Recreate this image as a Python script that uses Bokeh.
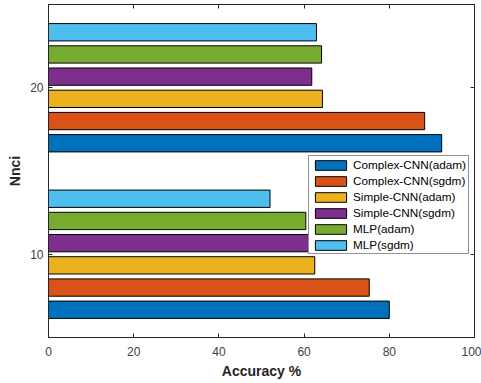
from bokeh.plotting import figure
from bokeh.models import FixedTicker, LinearAxis, Legend, LegendItem, ColumnDataSource
from bokeh.embed import file_html
from bokeh.resources import INLINE

# Number of nnci (group positions on the y axis)
nnci = [10, 20]

# Accuracy (%) per model/optimizer
series_names = [
    "Complex-CNN(adam)",
    "Complex-CNN(sgdm)",
    "Simple-CNN(adam)",
    "Simple-CNN(sgdm)",
    "MLP(adam)",
    "MLP(sgdm)",
]
complex_cnn_adam = [80.0, 92.3]
complex_cnn_sgdm = [75.3, 88.3]
simple_cnn_adam = [62.5, 64.3]
simple_cnn_sgdm = [61.1, 61.8]
mlp_adam = [60.4, 64.1]
mlp_sgdm = [52.0, 62.9]
series_values = [complex_cnn_adam, complex_cnn_sgdm, simple_cnn_adam,
                 simple_cnn_sgdm, mlp_adam, mlp_sgdm]

colors = ["#0072BD", "#D95319", "#EDB120", "#7E2F8E", "#77AC30", "#4DBEEE"]

FONT = "Liberation Sans"
TEXT = "#262626"

p = figure(width=481, height=383, output_backend="svg", toolbar_location=None,
           x_range=(0, 100), y_range=(5, 25),
           min_border_left=48, min_border_right=7, min_border_top=4, min_border_bottom=46)

p.xgrid.visible = False
p.ygrid.visible = False
p.outline_line_color = TEXT
p.outline_line_width = 1
p.background_fill_color = "white"
p.border_fill_color = "white"

# grouped horizontal bars: each group spans 0.8 of the category spacing
spacing = nnci[1] - nnci[0]
n = len(series_names)
group_w = 0.8 * spacing
step = group_w / n
bar_h = step * 0.78

renderers = []
for i, (name, vals, col) in enumerate(zip(series_names, series_values, colors)):
    off = -group_w / 2 + step * (i + 0.5)
    src = ColumnDataSource(dict(y=[c + off for c in nnci], right=vals))
    r = p.hbar(y="y", right="right", left=0, height=bar_h, source=src,
               fill_color=col, line_color="black", line_width=1)
    renderers.append((name, r))

# axes styling
for ax in (p.xaxis[0], p.yaxis[0]):
    ax.axis_line_color = TEXT
    ax.major_tick_line_color = TEXT
    ax.major_tick_in = 4
    ax.major_tick_out = 0
    ax.minor_tick_line_color = None
    ax.major_label_text_font = FONT
    ax.major_label_text_font_size = "12px"
    ax.major_label_text_color = "#404040"
    ax.axis_label_text_font = FONT
    ax.axis_label_text_font_size = "14px"
    ax.axis_label_text_font_style = "bold"
    ax.axis_label_text_color = TEXT

p.xaxis[0].ticker = FixedTicker(ticks=[0, 20, 40, 60, 80, 100])
p.yaxis[0].ticker = FixedTicker(ticks=nnci)
p.xaxis[0].axis_label = "Accuracy %"
p.yaxis[0].axis_label = "Nnci"
p.xaxis[0].major_label_standoff = 9
p.xaxis[0].axis_label_standoff = 4
p.yaxis[0].major_label_standoff = 5
p.yaxis[0].axis_label_standoff = 4

# box ticks on the top and right edges
top = LinearAxis(ticker=FixedTicker(ticks=[0, 20, 40, 60, 80, 100]))
right = LinearAxis(ticker=FixedTicker(ticks=nnci))
for ax in (top, right):
    ax.axis_line_color = TEXT
    ax.major_tick_line_color = TEXT
    ax.major_tick_in = 4
    ax.major_tick_out = 0
    ax.minor_tick_line_color = None
    ax.major_label_text_font_size = "0px"
    ax.major_label_standoff = 0
    ax.major_label_text_alpha = 0
p.add_layout(top, "above")
p.add_layout(right, "right")

legend = Legend(items=[LegendItem(label=nm, renderers=[r]) for nm, r in renderers],
                location=(260, 83))
legend.label_text_font = FONT
legend.label_text_font_size = "11.75px"
legend.label_text_color = "black"
legend.glyph_width = 39
legend.glyph_height = 12
legend.label_height = 12
legend.label_standoff = 3
legend.spacing = 3
legend.padding = 2
legend.margin = 0
legend.border_line_color = TEXT
legend.border_line_width = 1
legend.background_fill_color = "white"
legend.background_fill_alpha = 1
p.add_layout(legend, "center")

open("out.html", "w").write(file_html(p, INLINE))
